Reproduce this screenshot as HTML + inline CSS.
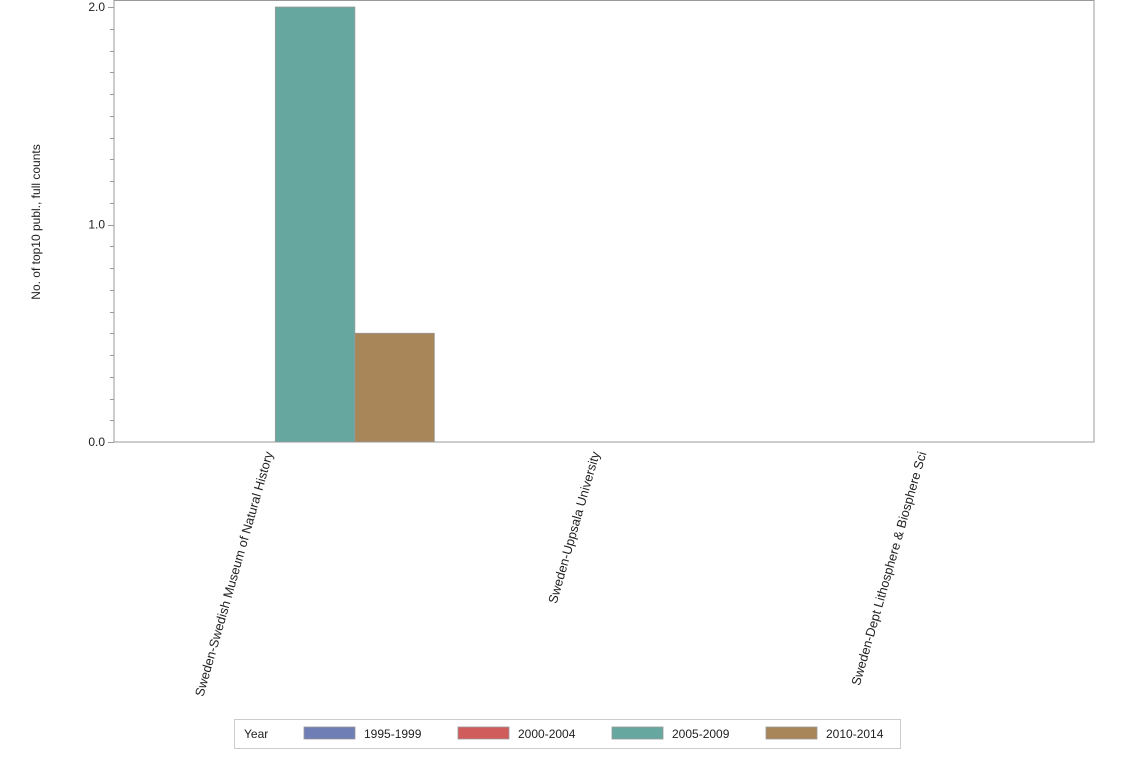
<!DOCTYPE html>
<html><head><meta charset="utf-8"><style>
body{margin:0;background:#fff;}
svg{font-family:"Liberation Sans",Arial,sans-serif;}
</style></head><body>
<svg id="chart" width="1134" height="756" viewBox="0 0 1134 756" xmlns="http://www.w3.org/2000/svg">
<rect x="0" y="0" width="1134" height="756" fill="#fff"/>
<g id="plot"></g>
</svg>
<script>
const categories = ["Sweden-Swedish Museum of Natural History","Sweden-Uppsala University","Sweden-Dept Lithosphere & Biosphere Sci"];
const seriesNames = ["1995-1999","2000-2004","2005-2009","2010-2014"];
const s1995 = [0,0,0];
const s2000 = [0,0,0];
const s2005 = [2,0,0];
const s2010 = [0.5,0,0];
const yTicks = [0,1,2];
const yTickLabels = ["0.0","1.0","2.0"];

const colors = ["#6f7eb5","#d05c5c","#66a8a0","#a8865a"];
const series = [s1995,s2000,s2005,s2010];
const L=114,R=1094,T=0,B=442,yTop=7;
const yMax=2;
const svg=document.getElementById('plot');
const NS='http://www.w3.org/2000/svg';
function y(v){return B-(v/yMax)*(B-yTop);}
const bandW=(R-L)/categories.length;
function xc(i){return L+bandW*(i+0.5);}
const barW=79.5;
function mk(tag,attrs,parent){const e=document.createElementNS(NS,tag);for(const k in attrs)e.setAttribute(k,attrs[k]);(parent||svg).appendChild(e);return e;}

const frame=mk('rect',{x:L,y:T+0.5,width:R-L,height:B-T-0.5,fill:'none',stroke:'#999','stroke-width':1});



series.forEach((s,si)=>{
  s.forEach((v,ci)=>{
    if(v<=0)return;
    const x0=xc(ci)-2*barW+si*barW-2;
    const r=mk('rect',{x:x0,y:y(v),width:barW,height:B-y(v),fill:colors[si],stroke:'#999','stroke-width':0.8});
    
    
  });
});

for(let k=0;k<=yMax*10;k++){
  const v=k/10, yy=Math.round(y(v))+0.5;
  const major=(k%10===0);
  const t=mk('line',{x1:major?L-6:L-4,x2:L,y1:yy,y2:yy,stroke:'#999','stroke-width':1});
  
  
}
yTicks.forEach((v,i)=>{
  const t=mk('text',{x:L-9,y:y(v)+4,'text-anchor':'end','font-size':12,fill:'#222'});
  t.textContent=yTickLabels[i];
  
  
});
const yt=mk('text',{transform:'translate(40,222) rotate(-90)','text-anchor':'middle','font-size':12,fill:'#222'});
yt.textContent='No. of top10 publ., full counts';



categories.forEach((c,i)=>{
  const t=mk('text',{transform:`translate(${xc(i)-8},452) rotate(-74)`,'text-anchor':'end','font-size':12.8,fill:'#222',dy:'4'});
  t.textContent=c;
  
  
});

const lg=mk('g',{});


mk('rect',{x:234.5,y:719.5,width:666,height:29,fill:'#fff',stroke:'#ccc','stroke-width':1},lg);
const ly=mk('text',{x:244,y:738,'font-size':12,fill:'#222'},lg);
ly.textContent='Year';
seriesNames.forEach((n,i)=>{
  const x0=304+i*154;
  const sw=mk('rect',{x:x0,y:727,width:51,height:12,fill:colors[i],stroke:'#999','stroke-width':0.8},lg);
  
  
  const tx=mk('text',{x:x0+60,y:738,'font-size':12,fill:'#222'},lg);
  tx.textContent=n;
  
  
});
</script>
</body></html>
